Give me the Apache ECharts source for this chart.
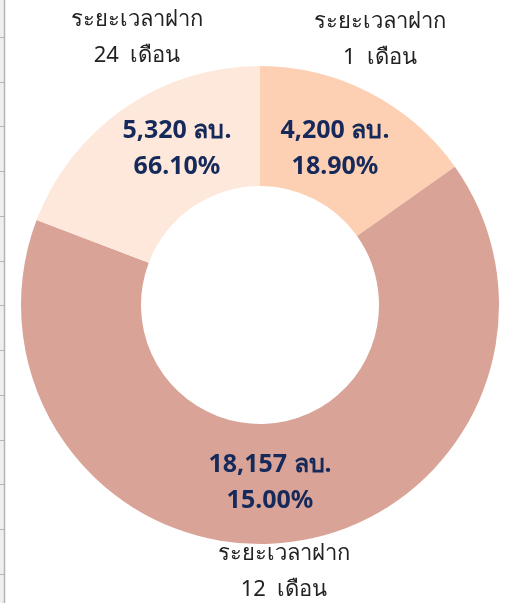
<!DOCTYPE html>
<html lang="th">
<head>
<meta charset="UTF-8">
<title>ระยะเวลาฝาก</title>
<script src="https://cdn.jsdelivr.net/npm/echarts@6/dist/echarts.min.js"></script>
<style>
    body{ margin:0; padding:0; background:#fff; }
</style>
</head>
<body>
<div id="main" style="width:506px;height:603px;"></div>
<script>
    // ข้อมูล
    var names = ['ระยะเวลาฝาก\n1  เดือน', 'ระยะเวลาฝาก\n12  เดือน', 'ระยะเวลาฝาก\n24  เดือน'];
    var amounts = [4200, 18157, 5320];
    var pctText = ['18.90%', '15.00%', '66.10%'];
    var colors = ['#fdcfb3', '#d9a497', '#fde8db'];

    // ตำแหน่งป้าย (จุดกึ่งกลางข้อความ)
    var outerLabelPos = [[380, 40], [284, 572], [137, 38]];
    var innerLabelPos = [[335, 149], [270, 483], [177, 149]];

    var fontFam = '"Noto Sans", "DejaVu Sans", sans-serif';

    function fmt(n) {
        return n.toString().replace(/\B(?=(\d{3})+(?!\d))/g, ',');
    }

    var items = [];
    for (var i = 0; i < amounts.length; i++) {
        items.push({
            name: names[i],
            value: amounts[i],
            itemStyle: { color: colors[i] }
        });
    }

    var chart = echarts.init(document.getElementById('main'));
    var option = {
        animation: false,
        graphic: [{
            type: 'rect',
            shape: { x: 0, y: 0, width: 4, height: 603 },
            style: { fill: '#efefef' },
            z: -1
        }, {
            type: 'line',
            shape: { x1: 4.5, y1: 0, x2: 4.5, y2: 603 },
            style: { stroke: '#b5b5b5', lineWidth: 1.5 },
            z: 0
        }],
        grid: { left: 4.5, top: 37, width: 1, height: 537 },
        xAxis: { type: 'value', show: false },
        yAxis: {
            type: 'value', min: 0, max: 12, interval: 1,
            axisLine: { show: false },
            axisTick: { show: true, length: 4.5, lineStyle: { color: '#b5b5b5' } },
            axisLabel: { show: false },
            splitLine: { show: false }
        },
        series: [{
            name: 'outer',
            type: 'pie',
            center: [260, 305],
            radius: [119, 239],
            startAngle: 90,
            silent: true,
            z: 1,
            data: items.map(function (d) {
                return { name: d.name, value: d.value, itemStyle: { color: 'transparent' } };
            }),
            label: {
                show: true,
                position: 'inside',
                formatter: '{b}',
                color: '#222',
                fontSize: 22,
                lineHeight: 36,
                fontFamily: fontFam,
                overflow: 'none'
            },
            labelLine: { show: false },
            labelLayout: function (p) {
                var pos = outerLabelPos[p.dataIndex];
                return { x: pos[0], y: pos[1], align: 'center', verticalAlign: 'middle' };
            }
        }, {
            name: 'ยอดเงินฝาก',
            type: 'pie',
            center: [260, 305],
            radius: [119, 239],
            startAngle: 90,
            z: 2,
            data: items,
            label: {
                show: true,
                position: 'inside',
                formatter: function (p) {
                    return fmt(p.value) + ' ลบ.\n' + pctText[p.dataIndex];
                },
                color: '#15295a',
                fontSize: 25,
                fontWeight: 'bold',
                lineHeight: 36,
                fontFamily: fontFam
            },
            labelLine: { show: false },
            labelLayout: function (p) {
                var pos = innerLabelPos[p.dataIndex];
                return { x: pos[0], y: pos[1], align: 'center', verticalAlign: 'middle' };
            },
            emphasis: { scale: false }
        }]
    };
    chart.setOption(option);
</script>
</body>
</html>
